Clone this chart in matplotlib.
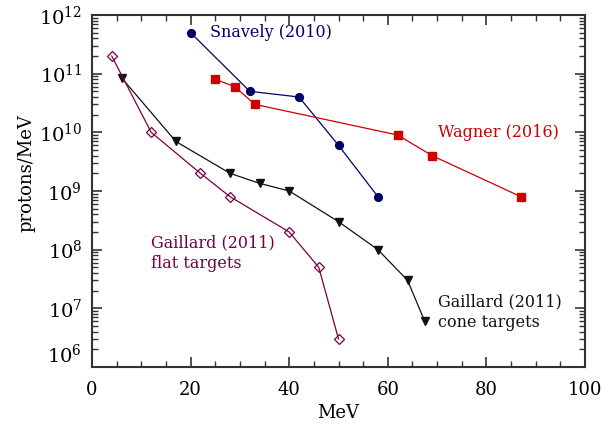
import matplotlib
matplotlib.use("Agg")
import matplotlib.pyplot as plt
from matplotlib.ticker import MultipleLocator, LogLocator, NullFormatter

plt.rcParams['mathtext.fontset'] = 'dejavuserif'

snavely_x = [20, 32, 42, 50, 58]
snavely_y = [5e11, 5e10, 4e10, 6e9, 8e8]

wagner_x = [25, 29, 33, 62, 69, 87]
wagner_y = [8e10, 6e10, 3e10, 9e9, 4e9, 8e8]

cone_x = [6, 17, 28, 34, 40, 50, 58, 64, 67.5]
cone_y = [8.5e10, 7e9, 2e9, 1.35e9, 1e9, 3e8, 1e8, 3e7, 6e6]

flat_x = [4, 12, 22, 28, 40, 46, 50]
flat_y = [2e11, 1e10, 2e9, 8e8, 2e8, 5e7, 3e6]

xticks = [0, 20, 40, 60, 80, 100]
ytick_exps = [6, 7, 8, 9, 10, 11, 12]

navy = '#000066'
red = '#cc0000'
purple = '#770044'
black = '#111111'

fig = plt.figure(figsize=(6.07, 4.24), dpi=100)
ax = fig.add_axes([92/607, 57/424, 493/607, 352/424])
ax.set_yscale('log')
ax.set_xlim(0, 100)
ax.set_ylim(1e6, 1e12)

ax.plot(snavely_x, snavely_y, '-o', color=navy, lw=0.9, ms=5.6)
ax.plot(wagner_x, wagner_y, '-s', color=red, lw=0.9, ms=5.6)
ax.plot(cone_x, cone_y, '-v', color=black, lw=0.9, ms=5.8)
ax.plot(flat_x, flat_y, '-D', color=purple, lw=0.9, ms=4.8, mfc='none', mew=0.9)

serif = 'DejaVu Serif'
fs = 11.5
ax.text(24, 5e11, 'Snavely (2010)', color=navy, family=serif, fontsize=fs, va='center')
ax.text(70.2, 1.0e10, 'Wagner (2016)', color=red, family=serif, fontsize=fs, va='center')
ax.text(12, 8.7e7, 'Gaillard (2011)\nflat targets', color=purple, family=serif, fontsize=fs,
        va='center', linespacing=1.25)
ax.text(70.2, 8.6e6, 'Gaillard (2011)\ncone targets', color=black, family=serif, fontsize=fs,
        va='center', linespacing=1.25)

ax.set_xticks(xticks)
ax.set_xticklabels([str(t) for t in xticks], family=serif, fontsize=13)
ax.xaxis.set_minor_locator(MultipleLocator(5))
ax.set_yticks([10.0**e for e in ytick_exps])
ax.set_yticklabels([r'$10^{%d}$' % e for e in ytick_exps], fontsize=14)
ax.yaxis.set_minor_locator(LogLocator(base=10, subs=range(2, 10)))
ax.yaxis.set_minor_formatter(NullFormatter())

ax.tick_params(which='both', direction='in', top=True, right=True, color='#333333')
ax.tick_params(which='major', length=7.2, width=1.2)
ax.tick_params(which='minor', length=4, width=1.0)
ax.tick_params(axis='x', pad=10)
ax.tick_params(axis='y', pad=7)
for s in ax.spines.values():
    s.set_linewidth(1.5)
    s.set_color('#333333')

# lowest y label sits just above the x axis, as in the original
ax.yaxis.get_major_ticks()[0].label1.set_verticalalignment('bottom')

ax.set_xlabel('MeV', family=serif, fontsize=13, labelpad=4)
ax.set_ylabel('protons/MeV', family=serif, fontsize=13, labelpad=6)
ax.yaxis.set_label_coords(-0.115, 0.55)

fig.savefig('out.png', dpi=100)
